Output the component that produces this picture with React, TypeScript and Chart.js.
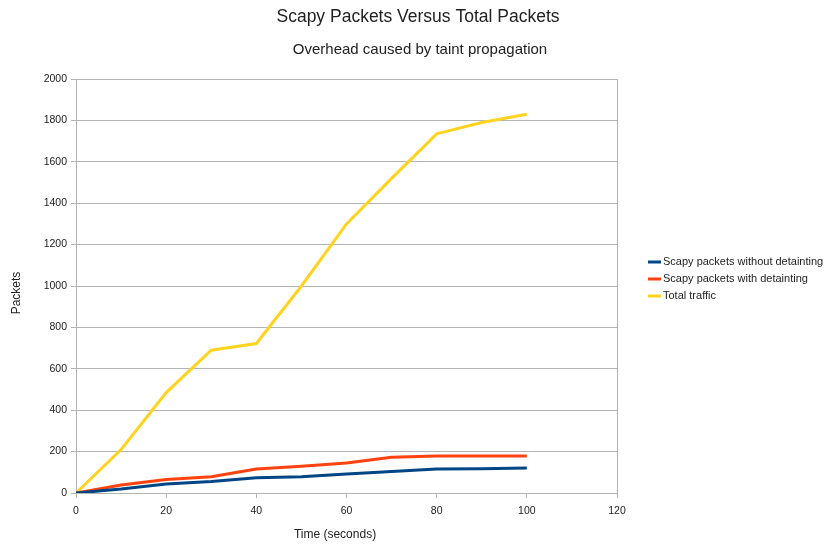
import { useEffect, useRef } from "react";
import { Chart, registerables } from "chart.js";

Chart.register(...registerables);

// ---- data ----
const timeSeconds = [0, 10, 20, 30, 40, 50, 60, 70, 80, 90, 100];
const withoutDetainting = [0, 19, 44, 56, 74, 79, 92, 104, 116, 117, 121];
const withDetainting = [0, 39, 65, 79, 116, 129, 145, 173, 179, 179, 179];
const totalTraffic = [0, 210, 485, 690, 722, 1000, 1300, 1520, 1735, 1790, 1830];

const seriesLabels = [
  "Scapy packets without detainting",
  "Scapy packets with detainting",
  "Total traffic",
];
const seriesColors = ["#004586", "#ff420e", "#ffd320"];

const chartTitle = "Scapy Packets Versus Total Packets";
const chartSubtitle = "Overhead caused by taint propagation";
const xAxisTitle = "Time (seconds)";
const yAxisTitle = "Packets";

const xMin = 0;
const xMax = 120;
const xStep = 20;
const yMin = 0;
const yMax = 2000;
const yStep = 200;

const FONT = '"Liberation Sans", Arial, sans-serif';
const GRID = "#b3b3b3";
const TEXT = "#222222";

const toPoints = (ys: number[]) => ys.map((y, i) => ({ x: timeSeconds[i], y }));

const overlayPlugin = {
  id: "overlay",
  afterDraw(chart: any) {
    const ctx: CanvasRenderingContext2D = chart.ctx;
    ctx.save();
    ctx.fillStyle = TEXT;
    ctx.textAlign = "center";
    ctx.textBaseline = "middle";

    ctx.font = `17.5px ${FONT}`;
    ctx.fillText(chartTitle, 418, 17);
    ctx.font = `15px ${FONT}`;
    ctx.fillText(chartSubtitle, 420, 50);

    ctx.font = `12px ${FONT}`;
    ctx.fillText(xAxisTitle, 335, 535);
    ctx.save();
    ctx.translate(17, 293);
    ctx.rotate(-Math.PI / 2);
    ctx.fillText(yAxisTitle, 0, 0);
    ctx.restore();

    // legend
    const rows = [262, 279, 296];
    ctx.font = `11px ${FONT}`;
    ctx.textAlign = "left";
    chart.data.datasets.forEach((ds: any, i: number) => {
      const y = rows[i];
      ctx.fillStyle = ds.borderColor;
      ctx.fillRect(648, y - 1.5, 13, 3);
      ctx.fillStyle = TEXT;
      ctx.fillText(ds.label, 663, y);
    });
    ctx.restore();
  },
};

export default function App() {
  const canvasRef = useRef<HTMLCanvasElement | null>(null);

  useEffect(() => {
    if (!canvasRef.current) return;
    const chart = new Chart(canvasRef.current, {
      type: "line",
      data: {
        datasets: [withoutDetainting, withDetainting, totalTraffic].map((vals, i) => ({
          label: seriesLabels[i],
          data: toPoints(vals),
          borderColor: seriesColors[i],
          backgroundColor: seriesColors[i],
          borderWidth: 3,
          pointRadius: 0,
          tension: 0,
          fill: false,
        })),
      },
      options: {
        animation: false,
        responsive: false,
        layout: { padding: { top: 79, right: 211, left: 0, bottom: 0 } },
        plugins: {
          legend: { display: false },
          title: { display: false },
          tooltip: { enabled: false },
        },
        scales: {
          x: {
            type: "linear",
            min: xMin,
            max: xMax,
            afterFit: (scale: any) => {
              scale.height = 55;
            },
            ticks: {
              stepSize: xStep,
              padding: 7,
              color: TEXT,
              font: { family: FONT, size: 10.5 },
              maxRotation: 0,
              callback: (v: any) => String(v),
            },
            grid: {
              color: (c: any) => (c.tick && c.tick.value === xMax ? GRID : "rgba(0,0,0,0)"),
              tickColor: GRID,
              tickLength: 5,
              lineWidth: 1,
            },
            border: { color: GRID, width: 1 },
          },
          y: {
            type: "linear",
            min: yMin,
            max: yMax,
            afterFit: (scale: any) => {
              scale.width = 76;
            },
            ticks: {
              stepSize: yStep,
              padding: 4,
              color: TEXT,
              font: { family: FONT, size: 10.5 },
              callback: (v: any) => String(v),
            },
            grid: {
              color: GRID,
              tickColor: GRID,
              tickLength: 5,
              lineWidth: 1,
            },
            border: { color: GRID, width: 1 },
          },
        },
      },
      plugins: [overlayPlugin],
    });
    return () => chart.destroy();
  }, []);

  return (
    <div style={{ position: "absolute", left: 0, top: 0, width: 828, height: 548, background: "#fff" }}>
      <canvas ref={canvasRef} width={828} height={548} />
    </div>
  );
}
